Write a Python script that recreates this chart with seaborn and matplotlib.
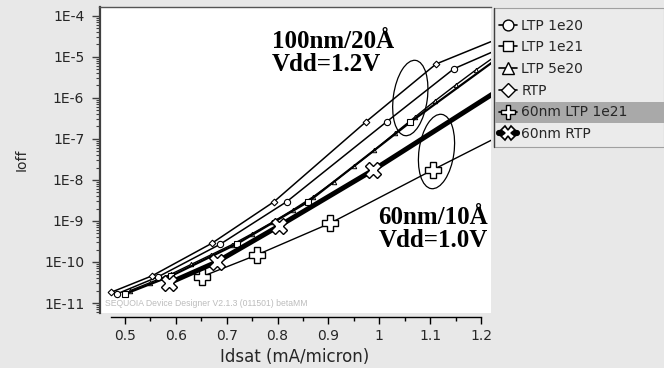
import matplotlib
matplotlib.use("Agg")
import numpy as np
import pandas as pd
import seaborn as sns
import matplotlib.pyplot as plt
from matplotlib import ticker
from matplotlib.lines import Line2D
from matplotlib.patches import Ellipse, Rectangle

# ---------------- data ----------------
rtp_x = [0.4725, 0.5537, 0.6705, 0.793, 0.9739, 1.1115, 1.2865]
rtp_y = [1.82e-11, 4.62e-11, 2.84e-10, 2.94e-9, 2.61e-7, 6.65e-6, 5.07e-5]

ltp1e20_x = [0.4849, 0.5655, 0.6868, 0.8179, 1.0145, 1.1469, 1.2865]
ltp1e20_y = [1.68e-11, 4.37e-11, 2.69e-10, 2.94e-9, 2.61e-7, 5.12e-6, 2.90e-5]

ltp1e21_x = [0.5, 0.5904, 0.7196, 0.8604, 1.0613, 1.28]
ltp1e21_y = [1.66e-11, 4.54e-11, 2.74e-10, 2.94e-9, 2.57e-7, 2.44e-5]

ltp5e20_x = [0.51, 0.55, 0.59, 0.63, 0.67, 0.71, 0.75, 0.79, 0.83, 0.87,
             0.91, 0.95, 0.99, 1.03, 1.07, 1.11, 1.15, 1.19, 1.23]
ltp5e20_y = [2.00e-11, 3.16e-11, 5.01e-11, 8.71e-11, 1.51e-10, 2.63e-10,
             4.90e-10, 9.33e-10, 1.86e-9, 3.89e-9, 8.91e-9, 2.14e-8,
             5.25e-8, 1.35e-7, 3.39e-7, 8.51e-7, 2.04e-6, 4.79e-6, 1.07e-5]

n60_ltp_x = [0.6508, 0.7589, 0.9031, 1.1046, 1.316]
n60_ltp_y = [4.37e-11, 1.48e-10, 8.75e-10, 1.74e-8, 3.70e-7]

n60_rtp_x = [0.5865, 0.6803, 0.8028, 0.9882, 1.2373]
n60_rtp_y = [3.07e-11, 1.00e-10, 7.52e-10, 1.74e-8, 1.61e-6]

legend_labels = ["LTP 1e20", "LTP 1e21", "LTP 5e20", "RTP",
                 "60nm LTP 1e21", "60nm RTP"]
x_ticks = [0.5, 0.6, 0.7, 0.8, 0.9, 1.0, 1.1, 1.2]
x_minor = [0.55, 0.65, 0.75, 0.85, 0.95, 1.05, 1.15]
y_ticks = [1e-11, 1e-10, 1e-9, 1e-8, 1e-7, 1e-6, 1e-5, 1e-4]

# ---------------- style ----------------
sns.set_style("white")
plt.rcParams["font.family"] = ["DejaVu Sans"]
BG = "#e8e8e8"

W, H = 664, 368
fig = plt.figure(figsize=(W / 100, H / 100), dpi=100, facecolor=BG)
ax = fig.add_axes([99.5 / W, 1 - 312.7 / H, 391.2 / W, 306 / H])
ax.set_facecolor("white")

common = dict(ax=ax, color="black", sort=False, estimator=None, legend=False,
              markerfacecolor="white", markeredgecolor="black")

sns.lineplot(x=n60_ltp_x, y=n60_ltp_y, marker="P", markersize=11,
             markeredgewidth=1.0, linewidth=1.0, **common)
sns.lineplot(x=ltp5e20_x, y=ltp5e20_y, marker="^", markersize=3.2,
             markeredgewidth=0.7, linewidth=1.0, **common)
sns.lineplot(x=ltp1e21_x, y=ltp1e21_y, marker="s", markersize=4.3,
             markeredgewidth=0.8, linewidth=1.6, **common)
sns.lineplot(x=ltp1e20_x, y=ltp1e20_y, marker="o", markersize=4.5,
             markeredgewidth=0.8, linewidth=1.1, **common)
sns.lineplot(x=rtp_x, y=rtp_y, marker="D", markersize=3.4,
             markeredgewidth=0.8, linewidth=1.1, **common)
sns.lineplot(x=n60_rtp_x, y=n60_rtp_y, marker="X", markersize=11,
             markeredgewidth=1.0, linewidth=3.6, **common)

ax.set_yscale("log")
ax.set_xlim(0.4499, 1.219)
ax.set_ylim(10 ** -11.236, 10 ** -3.781)

# axes / spines
ax.spines["right"].set_visible(False)
ax.spines["top"].set_color("#555555")
ax.spines["top"].set_linewidth(1.0)
ax.spines["left"].set_color("#404040")
ax.spines["left"].set_linewidth(1.6)
ax.spines["bottom"].set_position(("outward", 2.9))
ax.spines["bottom"].set_bounds(0.473, 1.2)
ax.spines["bottom"].set_color("black")
ax.spines["bottom"].set_linewidth(1.0)

ax.xaxis.set_major_locator(ticker.FixedLocator(x_ticks))
ax.xaxis.set_minor_locator(ticker.FixedLocator(x_minor))
ax.xaxis.set_major_formatter(ticker.FuncFormatter(lambda v, p: "%g" % v))
ax.yaxis.set_major_locator(ticker.FixedLocator(y_ticks))
ax.yaxis.set_minor_locator(ticker.LogLocator(base=10, subs=np.arange(2, 10), numticks=20))
ax.yaxis.set_major_formatter(
    ticker.FuncFormatter(lambda v, p: "1E%d" % int(round(np.log10(v)))))
ax.yaxis.set_minor_formatter(ticker.NullFormatter())

ax.tick_params(axis="x", which="major", bottom=True, direction="out",
               length=5, width=1, color="black", pad=3.5, labelsize=10)
ax.tick_params(axis="x", which="minor", bottom=True, direction="out",
               length=3.2, width=1, color="black")
ax.tick_params(axis="y", which="major", left=True, direction="out",
               length=6, width=1, color="#404040", pad=5, labelsize=10)
ax.tick_params(axis="y", which="minor", left=True, direction="out",
               length=3.2, width=0.8, color="#404040")

ax.set_xlabel("Idsat (mA/micron)", fontsize=12, labelpad=4)
ax.set_ylabel("Ioff", fontsize=10, labelpad=11)

# watermark
fig.text(105 / W, 1 - 303 / H, "SEQUOIA Device Designer V2.1.3 (011501) betaMM",
         fontsize=6.2, color="#bcbcbc", family=["Liberation Sans"], va="center")

# annotation texts
serif = dict(family=["Liberation Serif"], weight="bold", fontsize=18,
             color="black", va="baseline", ha="left")
fig.text(271.7 / W, 1 - 48.3 / H, "100nm/20Å", **serif)
fig.text(271.7 / W, 1 - 71 / H, "Vdd=1.2V", **serif)
fig.text(378.3 / W, 1 - 224 / H, "60nm/10Å", **serif)
fig.text(378.3 / W, 1 - 246.7 / H, "Vdd=1.0V", **serif)

# ellipses (inch coordinates)
for cx, cy, w, h in [(410.3, 98, 34, 76), (436.5, 151.5, 35, 75)]:
    fig.add_artist(Ellipse((cx / 100, (H - cy) / 100), w / 100, h / 100,
                           angle=-8, fill=False, edgecolor="black",
                           linewidth=0.9, transform=fig.dpi_scale_trans,
                           zorder=4))

# legend background and highlight
fig.add_artist(Rectangle((494 / W, 1 - 146.7 / H), 170 / W, 138.7 / H,
                         transform=fig.transFigure, facecolor="#ebebeb",
                         edgecolor="#a0a0a0", linewidth=0.8, zorder=1))
fig.add_artist(Line2D([494 / W, 494 / W], [1 - 146.7 / H, 1 - 8 / H],
                      transform=fig.transFigure, color="#404040",
                      linewidth=1.0, zorder=1.5))
fig.add_artist(Rectangle((495 / W, 1 - 122.7 / H), 169 / W, 21 / H,
                         transform=fig.transFigure, facecolor="#a9a9a9",
                         edgecolor="none", zorder=2))

hk = dict(color="black", markerfacecolor="white", markeredgecolor="black")
handles = [
    Line2D([], [], marker="o", markersize=7.8, linewidth=1.2, markeredgewidth=1.0, **hk),
    Line2D([], [], marker="s", markersize=7.5, linewidth=1.2, markeredgewidth=1.0, **hk),
    Line2D([], [], marker="^", markersize=8.0, linewidth=1.2, markeredgewidth=1.0, **hk),
    Line2D([], [], marker="D", markersize=7.5, linewidth=1.2, markeredgewidth=1.0, **hk),
    Line2D([], [], marker="P", markersize=9.5, linewidth=1.2, markeredgewidth=1.0, **hk),
    Line2D([], [], marker="X", markersize=9.5, linewidth=4.5, markeredgewidth=1.2, **hk),
]
fig.legend(handles, legend_labels, loc="upper left",
           bbox_to_anchor=(493.4 / W, 1 - 13.0 / H), frameon=False,
           fontsize=10, handlelength=1.3, handletextpad=0.3,
           labelspacing=0.555, borderpad=0.4, borderaxespad=0)

fig.savefig("out.png", dpi=100, facecolor=BG)
